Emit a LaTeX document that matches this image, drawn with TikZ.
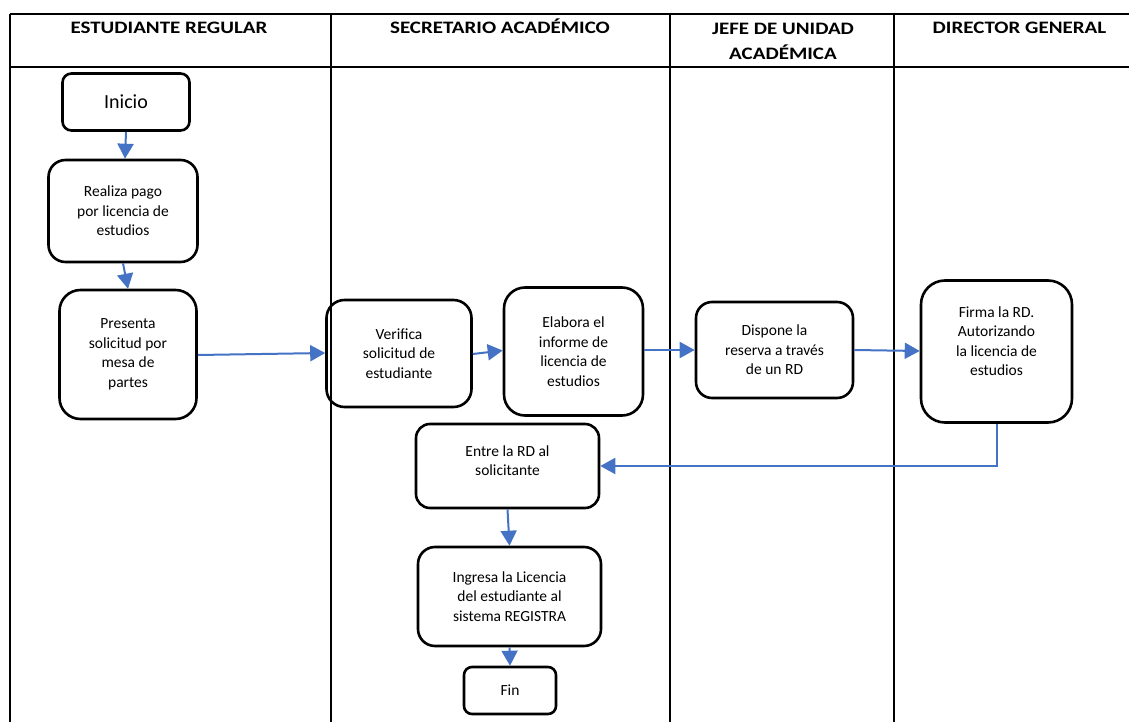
\documentclass[tikz,border=0pt]{standalone}
\usepackage{fontspec}
\setmainfont{Carlito}
\newfontfamily\headfont[FakeStretch=1.2]{Carlito}
\usetikzlibrary{arrows.meta,calc}
\definecolor{flowblue}{HTML}{4472C4}
\tikzset{
  box/.style={draw=black, line width=2.6pt, rounded corners=#1, inner sep=0pt,
    align=center, font=\fontsize{15.5}{19.5}\selectfont},
  txt/.style={inner sep=0pt, align=center, font=\fontsize{15.5}{19.5}\selectfont},
  head/.style={inner sep=0pt, align=center, anchor=base,
    font=\headfont\bfseries\fontsize{17.5}{24.3}\selectfont},
  grid/.style={line width=2.3pt, black},
  arr/.style={draw=flowblue, line width=2pt, -{Triangle[length=15pt,width=16pt]}}
}
\begin{document}
\begin{tikzpicture}[x=1pt,y=-1pt]
\useasboundingbox[fill=white] (0,0) rectangle (1129,722);

% swimlane table
\draw[grid] (10,14) -- (1129,14);
\draw[grid] (10,67) -- (1129,67);
\foreach \xx in {10,331,670,894} \draw[grid] (\xx,14) -- (\xx,722);

% lane headers (base anchor sits on the last line)
\node[head] (h1) at (169,34) {ESTUDIANTE REGULAR};
\node[head] (h2) at (500,34) {SECRETARIO ACADÉMICO};
\node[head] (h3) at (783,59.3) {JEFE DE UNIDAD\\ACADÉMICA};
\node[head] (h4) at (1019.5,34) {DIRECTOR GENERAL};

% process steps
\node[box=9, minimum width=127pt, minimum height=57pt,
      font=\fontsize{20}{24}\selectfont] (inicio) at (126,102) {Inicio};
\node[box=17, minimum width=149pt, minimum height=102pt] (realiza) at (123,211)
  {Realiza pago\\por licencia de\\estudios};
\node[box=21, minimum width=137pt, minimum height=129pt] (presenta) at (128,354.5)
  {Presenta\\solicitud por\\mesa de\\partes};
\node[box=18, minimum width=145pt, minimum height=107pt] (verifica) at (399,353.5)
  {Verifica\\solicitud de\\estudiante};
\node[box=21, minimum width=139pt, minimum height=128pt] (elabora) at (573.5,351.5)
  {Elabora el\\informe de\\licencia de\\estudios};
\node[box=16, minimum width=157pt, minimum height=96pt] (dispone) at (774.5,350)
  {Dispone la\\reserva a través\\de un RD};
\node[box=24, minimum width=151pt, minimum height=142pt] (firma) at (996.5,351.5) {};
\node[txt] (firmaT) at ([yshift=10.5pt]firma.center)
  {Firma la RD.\\Autorizando\\la licencia de\\estudios};
\node[box=14, minimum width=183pt, minimum height=84pt] (entre) at (507.5,466) {};
\node[txt] (entreT) at ([yshift=5.5pt]entre.center) {Entre la RD al\\solicitante};
\node[box=17, minimum width=183pt, minimum height=99pt] (ingresa) at (509.5,596.5)
  {Ingresa la Licencia\\del estudiante al\\sistema REGISTRA};
\node[box=8, minimum width=92pt, minimum height=47pt] (fin) at (510,690.5) {Fin};

% flow
\draw[arr] (inicio.south) -- ($(realiza.north)+(2,0)$);
\draw[arr] (realiza.south) -- (presenta.north);
\draw[arr] ($(presenta.east)+(0,0.5)$) -- ($(verifica.west)+(0,-0.5)$);
\draw[arr] ($(verifica.east)+(0,0.5)$) -- ($(elabora.west)+(0,-1)$);
\draw[arr] ($(elabora.east)+(0,-1.5)$) -- (dispone.west);
\draw[arr] (dispone.east) -- ($(firma.west)+(0,-0.5)$);
\draw[arr] (firma.south) |- (entre.east);
\draw[arr] (entre.south) -- (ingresa.north);
\draw[arr] (ingresa.south) -- (fin.north);
\end{tikzpicture}
\end{document}
